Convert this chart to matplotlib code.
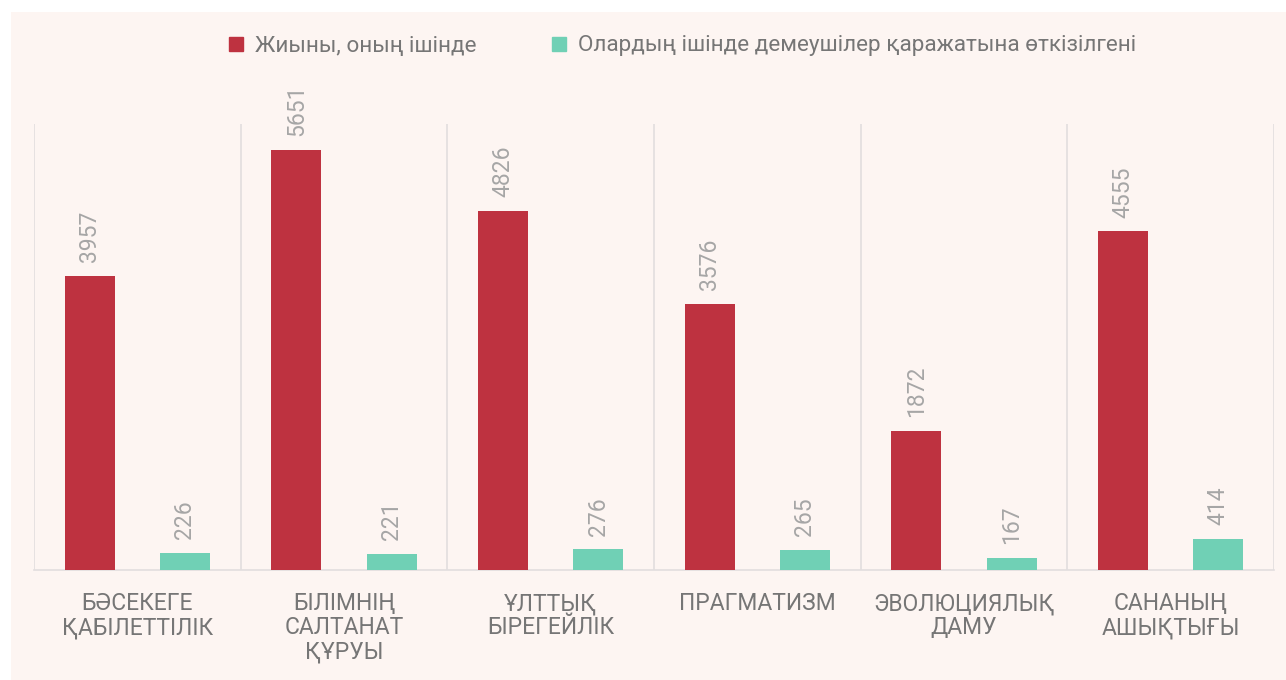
import numpy as np
import matplotlib.pyplot as plt
from matplotlib.lines import Line2D
from matplotlib.patches import Rectangle

plt.rcParams['font.family'] = ['Roboto', 'DejaVu Sans']

categories = ["БӘСЕКЕГЕ\nҚАБІЛЕТТІЛІК", "БІЛІМНІҢ\nСАЛТАНАТ\nҚҰРУЫ", "ҰЛТТЫҚ\nБІРЕГЕЙЛІК",
              "ПРАГМАТИЗМ", "ЭВОЛЮЦИЯЛЫҚ\nДАМУ", "САНАНЫҢ\nАШЫҚТЫҒЫ"]
total = [3957, 5651, 4826, 3576, 1872, 4555]
sponsor = [226, 221, 276, 265, 167, 414]
series_names = ["Жиыны, оның ішінде", "Олардың ішінде демеушілер қаражатына өткізілгені"]

red = '#be3240'
teal = '#70d0b5'
bg = '#fdf5f2'
grid = '#e2dede'
txt = '#767676'
lbl = '#a6a6a6'

fig = plt.figure(figsize=(12.86, 6.8), dpi=100)
fig.patch.set_facecolor('white')
# pink panel, leaving a thin white margin at left and top
fig.patches.append(Rectangle((11/1286, 0), 1, 1 - 12/680, transform=fig.transFigure,
                             facecolor=bg, edgecolor='none', zorder=-10))

ax = fig.add_axes([34/1286, 110/680, 1240/1286, 446/680])
ax.set_facecolor('none')
ax.set_zorder(1)

x = np.arange(len(categories))
w = 0.242
off = 0.23
b1 = ax.bar(x - off, total, w, color=red, zorder=3)
b2 = ax.bar(x + off, sponsor, w, color=teal, zorder=3)

for bars in (b1, b2):
    for b in bars:
        h = b.get_height()
        ax.annotate(str(int(h)), (b.get_x() + b.get_width() / 2, h), xytext=(0, 10),
                    textcoords='offset points', rotation=90, ha='center', va='bottom',
                    fontsize=16.5, color=lbl)

for s in np.arange(-0.5, len(categories), 1.0):
    ax.axvline(s, color=grid, lw=1.2, zorder=1)

ax.set_xlim(-0.5, len(categories) - 0.5)
ax.set_ylim(0, 6000)
ax.set_yticks([])
for sp in ['top', 'right', 'left']:
    ax.spines[sp].set_visible(False)
ax.spines['bottom'].set_color(grid)
ax.spines['bottom'].set_linewidth(1.2)

ax.set_xticks(x)
ax.set_xticklabels(categories, fontsize=16.5, color=txt, linespacing=1.05, va='top')
ax.tick_params(axis='x', length=0, pad=16)

handles = [Line2D([], [], marker='s', ls='none', markersize=10, color=red),
           Line2D([], [], marker='s', ls='none', markersize=10, color=teal)]
leg = fig.legend(handles, series_names, loc='center', bbox_to_anchor=(682/1286, 1 - 46/680),
                 ncol=2, frameon=False, fontsize=16.2, labelcolor=txt,
                 handlelength=0.7, handletextpad=0.5, columnspacing=3.3)

fig.savefig('out.png', dpi=100, facecolor=fig.get_facecolor())
